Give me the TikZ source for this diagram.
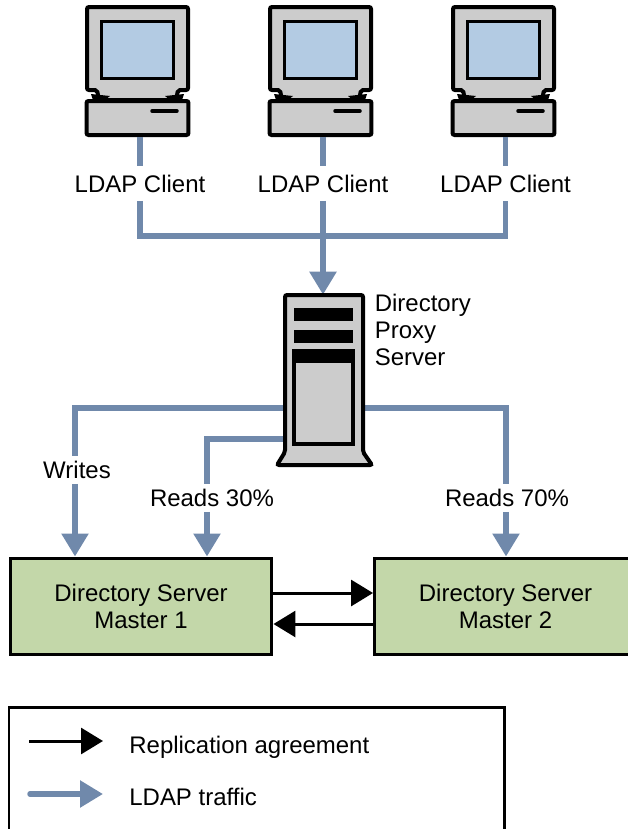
\documentclass[tikz,border=0pt]{standalone}
\usepackage{fontspec}
\setmainfont{Liberation Sans}
\usetikzlibrary{arrows.meta}
\definecolor{trafficblue}{HTML}{7089AB}
\definecolor{screenblue}{HTML}{B3CBE3}
\definecolor{boxgreen}{HTML}{C3D7A9}
\definecolor{casegray}{HTML}{CCCCCC}
\tikzset{
	lbl/.style={font=\fontsize{13.65}{15.3}\selectfont, align=center, inner sep=0pt},
	traffic/.style={line width=0.11cm, color=trafficblue},
	traffictip/.style={traffic, -{Triangle[length=0.46cm,width=0.52cm]}},
	repl/.style={line width=0.06cm, -{Triangle[length=0.44cm,width=0.52cm]}},
	master/.style={draw, line width=0.06cm, fill=boxgreen, minimum width=5.24cm, minimum height=1.94cm, lbl},
	casepart/.style={draw, line width=0.08cm, fill=casegray, rounded corners=0.04cm}
}
% one client computer, #1 is the name of its base and #2 the x shift
\def\clientpc#1#2{
	\begin{scope}[shift={(#2,0)}]
		\draw[casepart] (87, 7) -- (188, 7) -- (188, 90) -- (178, 90) -- (176, 100) -- (99, 100) -- (97, 90) -- (87, 90) -- cycle;
		\draw[line width=0.06cm, fill=screenblue] (101, 21) rectangle (173, 78);
		\fill (91, 94) -- (110, 96) -- (101, 103) -- (94, 103) -- cycle;
		\fill (184, 94) -- (165, 96) -- (174, 103) -- (181, 103) -- cycle;
		\node[casepart, minimum width=2.04cm, minimum height=0.68cm, inner sep=0pt] (#1) at (137.5, 118) {};
		\draw[line width=0.07cm, line cap=round] (152, 111) -- (177, 111);
	\end{scope}
}

\begin{document}
\begin{tikzpicture}[x=0.02cm, y=-0.02cm]
	\useasboundingbox (0, 0) rectangle (628, 829);

	%%%%% CLIENTS %%%%%
	\clientpc{pca}{0}
	\clientpc{pcb}{183}
	\clientpc{pcc}{366}

	\node[lbl, minimum height=0.68cm] (cla) at (140, 183.5) {LDAP Client};
	\node[lbl, minimum height=0.68cm] (clb) at (323, 183.5) {LDAP Client};
	\node[lbl, minimum height=0.68cm] (clc) at (505.5, 183.5) {LDAP Client};

	%%%%% PROXY %%%%%
	\node[minimum width=1.62cm, minimum height=3.4cm, inner sep=0pt] (proxy) at (323.5, 380) {};
	\node[lbl, align=left, anchor=west] (proxylbl) at (374.5, 330) {Directory\\Proxy\\Server};

	%%%%% MASTERS %%%%%
	\node[master] (mone) at (141, 606.5) {Directory Server\\Master 1};
	\node[master] (mtwo) at (505.5, 606.5) {Directory Server\\Master 2};

	%%%%% LDAP LINES %%%%%
	\coordinate (bus) at (323, 236);
	\draw[traffic] (pca.south -| cla) -- (cla.north);
	\draw[traffic] (pcb.south -| clb) -- (clb.north);
	\draw[traffic] (pcc.south -| clc) -- (clc.north);
	\draw[traffic] (cla.south) -- (cla.south |- bus) -- (clc.south |- bus) -- (clc.south);
	\draw[traffic] (clb.south) -- (bus);
	\draw[traffictip] (bus) -- (proxy.north -| bus);

	\node[lbl, minimum height=0.54cm] (writes) at (77, 470) {Writes};
	\node[lbl, minimum height=0.54cm] (readsa) at (212, 498) {Reads 30\%};
	\node[lbl, minimum height=0.54cm] (readsb) at (507, 498) {Reads 70\%};

	\coordinate (wturn) at (75, 408);
	\coordinate (aturn) at (207, 439);
	\coordinate (bturn) at (506, 408);
	\draw[traffic] (proxy.west |- wturn) -- (wturn) -- (wturn |- writes.north);
	\draw[traffictip] (wturn |- writes.south) -- (wturn |- mone.north);
	\draw[traffic] (proxy.west |- aturn) -- (aturn) -- (aturn |- readsa.north);
	\draw[traffictip] (aturn |- readsa.south) -- (aturn |- mone.north);
	\draw[traffic] (proxy.east |- bturn) -- (bturn) -- (bturn |- readsb.north);
	\draw[traffictip] (bturn |- readsb.south) -- (bturn |- mtwo.north);

	%%%%% PROXY CASE %%%%%
	\draw[casepart] (285, 295) -- (363, 295) -- (363, 452) -- (372, 465) -- (277, 465) -- (285, 452) -- cycle;
	\fill (294, 308) rectangle (353, 321);
	\fill (294, 330) rectangle (353, 343);
	\draw[line width=0.07cm, fill=casegray] (294, 351) rectangle (353, 444);
	\fill (293, 350) rectangle (354, 363);

	%%%%% REPLICATION %%%%%
	\draw[repl] (mone.east |- 0, 593) -- (mtwo.west |- 0, 593);
	\draw[repl] (mtwo.west |- 0, 624) -- (mone.east |- 0, 624);

	%%%%% LEGEND %%%%%
	\draw[line width=0.06cm] (9, 835) -- (9, 707) -- (504, 707) -- (504, 835);
	\node[lbl, anchor=base west] (legrepl) at (129, 753) {Replication agreement};
	\node[lbl, anchor=base west] (legldap) at (129, 805) {LDAP traffic};
	\coordinate (legrs) at (29, 741);
	\coordinate (legre) at (103, 741);
	\coordinate (legls) at (30, 794);
	\coordinate (legle) at (103, 794);
	\draw[repl] (legrs) -- (legre);
	\draw[traffictip, line cap=round] (legls) -- (legle);
\end{tikzpicture}
\end{document}
